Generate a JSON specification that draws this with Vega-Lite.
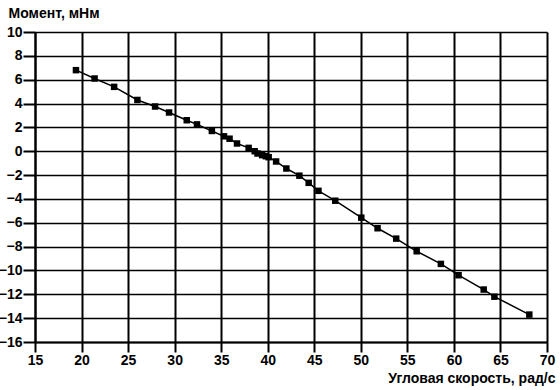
{
  "$schema": "https://vega.github.io/schema/vega-lite/v6.json",
  "width": 512,
  "height": 310,
  "autosize": "none",
  "padding": {"left": 35, "top": 32, "right": 13, "bottom": 48},
  "background": "white",
  "config": {
    "view": {"stroke": null},
    "axis": {
      "labelFont": "Liberation Sans",
      "labelFontWeight": "bold",
      "labelFontSize": 14,
      "labelColor": "black",
      "titleFont": "Liberation Sans",
      "titleFontWeight": "bold",
      "titleFontSize": 14,
      "titleColor": "black",
      "gridColor": "black",
      "gridOpacity": 1,
      "gridWidth": 2,
      "domainColor": "black",
      "domainWidth": 2,
      "tickColor": "black",
      "tickWidth": 2
    }
  },
  "data": {
    "values": [
      {"w": 19.4, "m": 6.8},
      {"w": 21.4, "m": 6.1},
      {"w": 23.5, "m": 5.4},
      {"w": 26.0, "m": 4.3},
      {"w": 27.9, "m": 3.75},
      {"w": 29.4, "m": 3.25},
      {"w": 31.3, "m": 2.6},
      {"w": 32.4, "m": 2.25},
      {"w": 34.0, "m": 1.7},
      {"w": 35.3, "m": 1.25},
      {"w": 35.9, "m": 1.05},
      {"w": 36.7, "m": 0.65},
      {"w": 37.95, "m": 0.28},
      {"w": 38.6, "m": 0.0},
      {"w": 38.9, "m": -0.19},
      {"w": 39.4, "m": -0.33},
      {"w": 39.8, "m": -0.42},
      {"w": 40.1, "m": -0.5},
      {"w": 40.9, "m": -0.86},
      {"w": 42.0, "m": -1.45},
      {"w": 43.4, "m": -2.05},
      {"w": 44.4, "m": -2.65},
      {"w": 45.45, "m": -3.32},
      {"w": 47.25, "m": -4.15},
      {"w": 50.05, "m": -5.57},
      {"w": 51.8, "m": -6.46},
      {"w": 53.8, "m": -7.33},
      {"w": 56.0, "m": -8.39},
      {"w": 58.6, "m": -9.45},
      {"w": 60.5, "m": -10.4},
      {"w": 63.2, "m": -11.6},
      {"w": 64.35, "m": -12.2},
      {"w": 68.1, "m": -13.7}
    ]
  },
  "encoding": {
    "x": {
      "field": "w", "type": "quantitative",
      "scale": {"domain": [15, 70], "nice": false, "zero": false},
      "axis": {
        "values": [15, 20, 25, 30, 35, 40, 45, 50, 55, 60, 65, 70],
        "title": "Угловая скорость, рад/с",
        "titleAlign": "right",
        "titleAnchor": null,
        "titleBaseline": "alphabetic",
        "titleX": 520,
        "titleY": 40,
        "tickSize": 10,
        "labelPadding": 1,
        "labelFlush": false,
        "labelOverlap": false
      }
    },
    "y": {
      "field": "m", "type": "quantitative",
      "scale": {"domain": [-16, 10], "nice": false, "zero": false},
      "axis": {
        "values": [-16, -14, -12, -10, -8, -6, -4, -2, 0, 2, 4, 6, 8, 10],
        "title": "Момент, мНм",
        "titleAngle": 0,
        "titleAlign": "left",
        "titleAnchor": null,
        "titleBaseline": "alphabetic",
        "titleX": -27,
        "titleY": -15,
        "tickSize": 12,
        "labelPadding": 1,
        "labelFlush": false,
        "labelOverlap": false,
        "gridWidth": 1.6
      }
    }
  },
  "layer": [
    {"mark": {"type": "line", "color": "black", "strokeWidth": 1.5}},
    {"mark": {"type": "point", "shape": "square", "filled": true, "color": "black", "size": 42, "opacity": 1}}
  ]
}
